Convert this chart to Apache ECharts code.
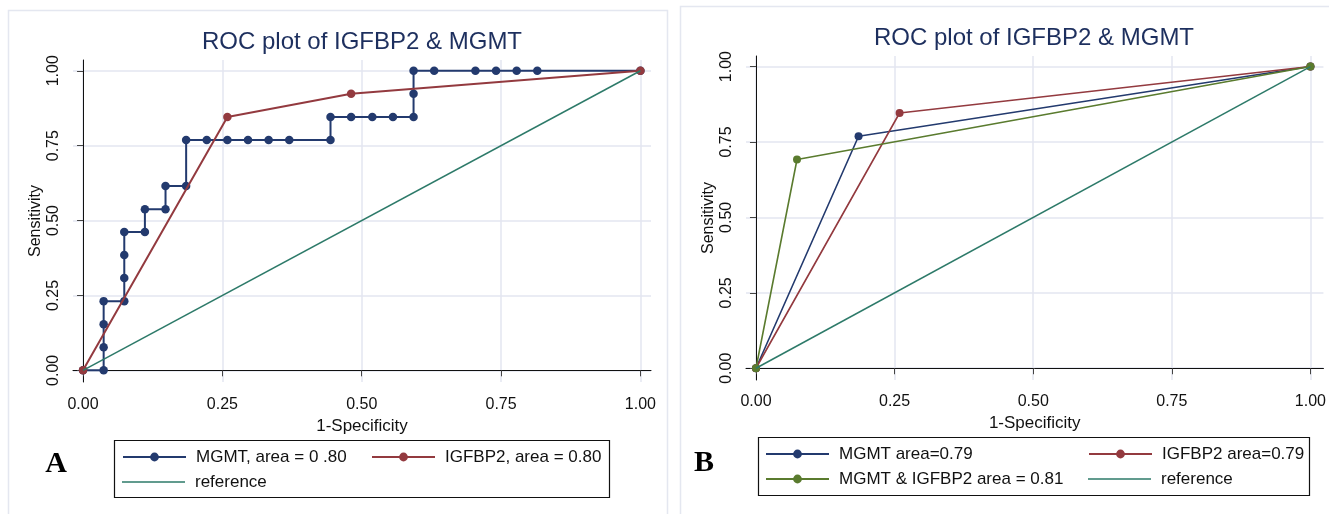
<!DOCTYPE html>
<html>
<head>
<meta charset="utf-8">
<script src="https://cdn.jsdelivr.net/npm/echarts@6/dist/echarts.min.js"></script>
<style>
  html, body { margin: 0; padding: 0; background: #fff; }
  #main { width: 1329px; height: 514px; }
</style>
</head>
<body>
<div id="main"></div>
<script>
// axis ticks for both panels
var tickValues = [0, 0.25, 0.5, 0.75, 1];

// panel A - MGMT empirical ROC (1-specificity / sensitivity)
var mgmtA_x = [0, 0.037, 0.037, 0.037, 0.037, 0.074, 0.074, 0.074, 0.074, 0.111, 0.111, 0.148, 0.148, 0.185, 0.185, 0.222, 0.259, 0.296, 0.333, 0.370, 0.444, 0.444, 0.481, 0.519, 0.556, 0.593, 0.593, 0.593, 0.630, 0.704, 0.741, 0.778, 0.815, 1];
var mgmtA_y = [0, 0, 0.077, 0.154, 0.231, 0.231, 0.308, 0.385, 0.462, 0.462, 0.538, 0.538, 0.615, 0.615, 0.769, 0.769, 0.769, 0.769, 0.769, 0.769, 0.769, 0.846, 0.846, 0.846, 0.846, 0.846, 0.923, 1, 1, 1, 1, 1, 1, 1];
// panel A - IGFBP2
var igfA_x = [0, 0.259, 0.481, 1];
var igfA_y = [0, 0.846, 0.923, 1];

// panel B
var mgmtB_x = [0, 0.185, 1];
var mgmtB_y = [0, 0.769, 1];
var igfB_x = [0, 0.259, 1];
var igfB_y = [0, 0.846, 1];
var combB_x = [0, 0.074, 1];
var combB_y = [0, 0.692, 1];

// diagonal reference
var ref_x = [0, 1];
var ref_y = [0, 1];

var names = {
  mgmtA: 'MGMT, area = 0 .80',
  igfA: 'IGFBP2, area = 0.80',
  mgmtB: 'MGMT area=0.79',
  igfB: 'IGFBP2 area=0.79',
  combB: 'MGMT & IGFBP2 area = 0.81',
  ref: 'reference'
};

var NAVY = '#233a6e', MAROON = '#933a3f', GREEN = '#5a7b2e', TEAL = '#2d7a69';
var FONT = "'Liberation Sans', Arial, sans-serif";

function zip(xs, ys) {
  return xs.map(function (x, i) { return [x, ys[i]]; });
}

function xAxisFor(gi, max, margin, gap) {
  return {
    type: 'value', gridIndex: gi, min: -0.018, max: max,
    name: '1-Specificity', nameLocation: 'middle', nameGap: gap,
    nameTextStyle: { fontSize: 17, color: '#111', fontFamily: FONT },
    axisLine: { lineStyle: { color: '#111', width: 1 } },
    axisTick: { customValues: tickValues, length: 6, lineStyle: { color: '#444' } },
    axisLabel: {
      customValues: tickValues, margin: margin, fontSize: 16, color: '#111', fontFamily: FONT,
      formatter: function (v) { return v.toFixed(2); }
    },
    splitLine: { show: true, lineStyle: { color: '#e3e6f1', width: 1.5 } }
  };
}

function yAxisFor(gi, min, max) {
  return {
    type: 'value', gridIndex: gi, min: min, max: max,
    name: 'Sensitivity', nameLocation: 'middle', nameGap: 29, nameRotate: 90,
    nameTextStyle: { fontSize: 16, color: '#111', fontFamily: FONT },
    axisLine: { show: true, lineStyle: { color: '#111', width: 1 } },
    axisTick: { show: true, customValues: tickValues, length: 6, lineStyle: { color: '#444' } },
    axisLabel: {
      customValues: tickValues, rotate: 90, margin: 11, fontSize: 16, color: '#111', fontFamily: FONT,
      formatter: function (v) { return v.toFixed(2); }
    },
    splitLine: { show: true, lineStyle: { color: '#e3e6f1', width: 1.5 } }
  };
}

function lineSeries(name, gi, xs, ys, color, width, size, z) {
  return {
    name: name, type: 'line', xAxisIndex: gi, yAxisIndex: gi,
    data: zip(xs, ys),
    symbol: size ? 'circle' : 'none',
    showSymbol: !!size,
    symbolSize: size || 0,
    z: z,
    itemStyle: { color: color },
    lineStyle: { color: color, width: width },
    emphasis: { disabled: true }
  };
}

function legendItem(name, left, top, plain) {
  var item = plain ? { name: name, icon: 'path://M0,0L63,0L63,1.6L0,1.6Z' } : name;
  return {
    data: [item], left: left, top: top, padding: 0, itemGap: 0,
    itemWidth: 63, itemHeight: 11,
    textStyle: { fontSize: 17, color: '#111', fontFamily: FONT, lineHeight: 20, padding: [0, 0, 0, 5] },
    selectedMode: false
  };
}

var chart = echarts.init(document.getElementById('main'));

var option = {
  backgroundColor: '#fff',
  animation: false,
  grid: [
    { left: 73, top: 60, width: 578, height: 322 },
    { left: 746, top: 56, width: 580, height: 324 }
  ],
  xAxis: [xAxisFor(0, 1.019, 15, 29), xAxisFor(1, 1.0235, 14, 28)],
  yAxis: [yAxisFor(0, -0.039, 1.036), yAxisFor(1, -0.039, 1.035)],
  legend: [
    legendItem(names.mgmtA, 122, 447),
    legendItem(names.igfA, 371, 447),
    legendItem(names.ref, 122, 472, true),
    legendItem(names.mgmtB, 765, 444),
    legendItem(names.igfB, 1088, 444),
    legendItem(names.combB, 765, 469),
    legendItem(names.ref, 1088, 469, true)
  ],
  series: [
    lineSeries(names.mgmtA, 0, mgmtA_x, mgmtA_y, NAVY, 2, 8.5, 2),
    lineSeries(names.igfA, 0, igfA_x, igfA_y, MAROON, 2, 8.5, 3),
    lineSeries(names.ref, 0, ref_x, ref_y, TEAL, 1.5, 0, 4),
    lineSeries(names.mgmtB, 1, mgmtB_x, mgmtB_y, NAVY, 1.6, 8, 2),
    lineSeries(names.igfB, 1, igfB_x, igfB_y, MAROON, 1.6, 8, 3),
    lineSeries(names.combB, 1, combB_x, combB_y, GREEN, 1.6, 8, 4),
    lineSeries(names.ref, 1, ref_x, ref_y, TEAL, 1.5, 0, 5)
  ],
  graphic: [
    // panel frames
    { type: 'rect', shape: { x: 8.5, y: 10.5, width: 659, height: 520 }, style: { fill: 'none', stroke: '#e4e7f0', lineWidth: 1.5 }, silent: true },
    { type: 'rect', shape: { x: 680.5, y: 6.5, width: 660, height: 520 }, style: { fill: 'none', stroke: '#e4e7f0', lineWidth: 1.5 }, silent: true },
    // legend boxes
    { type: 'rect', shape: { x: 114.5, y: 440.5, width: 495, height: 57 }, style: { fill: 'none', stroke: '#111', lineWidth: 1.2 }, silent: true },
    { type: 'rect', shape: { x: 758.5, y: 437.5, width: 551, height: 58 }, style: { fill: 'none', stroke: '#111', lineWidth: 1.2 }, silent: true },
    // titles
    { type: 'text', x: 362, y: 42, style: { text: 'ROC plot of IGFBP2 & MGMT', fill: '#1d2f5e', font: '24px ' + FONT, textAlign: 'center', textVerticalAlign: 'middle' } },
    { type: 'text', x: 1034, y: 38, style: { text: 'ROC plot of IGFBP2 & MGMT', fill: '#1d2f5e', font: '24px ' + FONT, textAlign: 'center', textVerticalAlign: 'middle' } },
    // panel letters
    { type: 'text', x: 56, y: 464, style: { text: 'A', fill: '#000', font: "bold 30px 'Liberation Serif', 'Times New Roman', serif", textAlign: 'center', textVerticalAlign: 'middle' } },
    { type: 'text', x: 704, y: 463, style: { text: 'B', fill: '#000', font: "bold 30px 'Liberation Serif', 'Times New Roman', serif", textAlign: 'center', textVerticalAlign: 'middle' } }
  ]
};

chart.setOption(option);
</script>
</body>
</html>
